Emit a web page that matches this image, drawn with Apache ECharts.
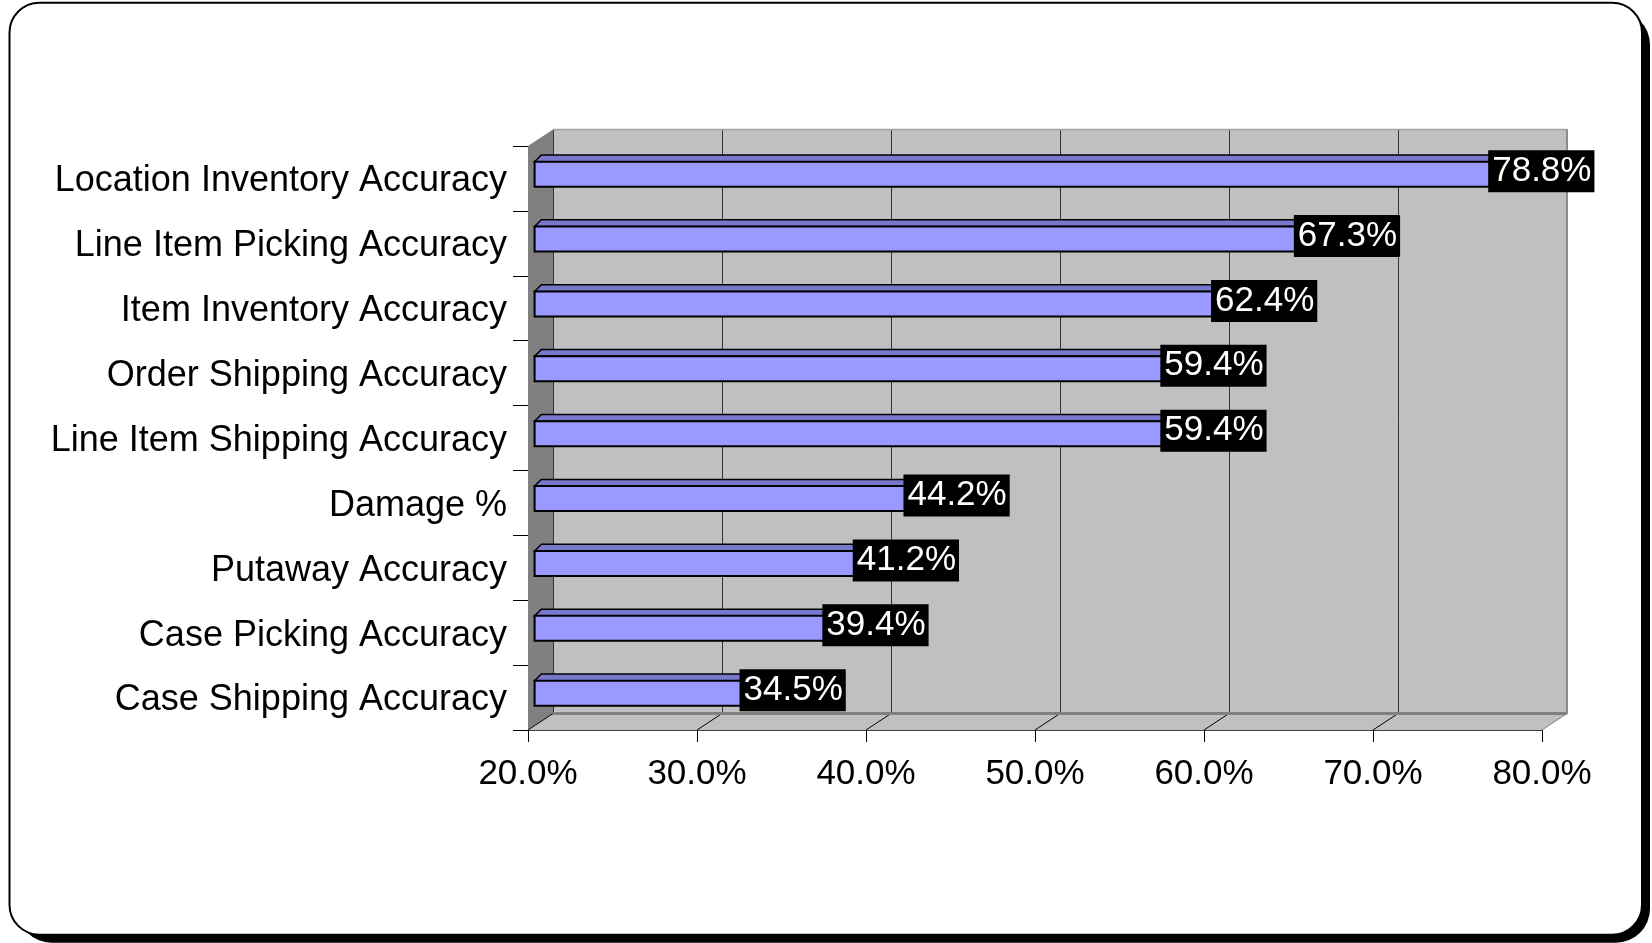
<!DOCTYPE html>
<html>
<head>
<meta charset="utf-8">
<script src="https://cdn.jsdelivr.net/npm/echarts@6/dist/echarts.min.js"></script>
<style>
  html, body { margin: 0; padding: 0; background: #fff; }
  #chart { width: 1652px; height: 943px; }
</style>
</head>
<body>
<div id="chart"></div>
<script>
// ---- data ----
const categories = [
  'Location Inventory Accuracy',
  'Line Item Picking Accuracy',
  'Item Inventory Accuracy',
  'Order Shipping Accuracy',
  'Line Item Shipping Accuracy',
  'Damage %',
  'Putaway Accuracy',
  'Case Picking Accuracy',
  'Case Shipping Accuracy'
];
const values = [78.8, 67.3, 62.4, 59.4, 59.4, 44.2, 41.2, 39.4, 34.5];
const xMin = 20;
const xMax = 80;
const xStep = 10;
const xTickValues = [20, 30, 40, 50, 60, 70, 80];

// ---- layout / style constants ----
const FONT = '"Liberation Sans", Arial, sans-serif';
const G = { left: 528, top: 146, width: 1014, height: 584 };
const DX = 25, DY = -16.5;             // depth offset of the back wall
const FRONT_DX = 6.6, FRONT_DY = -4.3; // bar front face offset
const BAR_H = 25, TOP_D = 6.7;

const chart = echarts.init(document.getElementById('chart'), null, { renderer: 'canvas' });

function renderWalls(params, api) {
  const cs = params.coordSys;
  const L = cs.x, T = cs.y, R = cs.x + cs.width, B = cs.y + cs.height;
  const children = [];
  children.push({ type: 'polygon', shape: { points: [[L, T], [L + DX, T + DY], [L + DX, B + DY], [L, B]] },
    style: { fill: '#808080', stroke: null } });
  children.push({ type: 'polygon', shape: { points: [[L, B], [L + DX, B + DY], [R + DX, B + DY], [R, B]] },
    style: { fill: '#c0c0c0', stroke: null } });
  xTickValues.forEach(function (v) {
    const x = api.coord([v, 0])[0];
    children.push({ type: 'line', shape: { x1: x, y1: B, x2: x + DX, y2: B + DY },
      style: { stroke: v === xMax ? '#808080' : '#000', lineWidth: 1 } });
  });
  children.push({ type: 'line', shape: { x1: L + DX, y1: B + DY, x2: R + DX, y2: B + DY },
    style: { stroke: '#808080', lineWidth: 3 } });
  children.push({ type: 'line', shape: { x1: L + DX, y1: T + DY, x2: R + DX, y2: T + DY },
    style: { stroke: '#a0a0a0', lineWidth: 1.5 } });
  children.push({ type: 'line', shape: { x1: R + DX, y1: T + DY, x2: R + DX, y2: B + DY },
    style: { stroke: '#8c8c8c', lineWidth: 2 } });
  return { type: 'group', children: children };
}

function renderBar(params, api) {
  const v = api.value(0);
  const idx = api.value(1);
  const p0 = api.coord([xMin, idx]);
  const p1 = api.coord([v, idx]);
  const cy = p0[1] + FRONT_DY;
  const x0 = p0[0] + FRONT_DX, x1 = p1[0] + FRONT_DX;
  const yt = cy - BAR_H / 2;
  return {
    type: 'group',
    children: [
      { type: 'polygon', shape: { points: [[x0, yt], [x1, yt], [x1 + TOP_D, yt - TOP_D], [x0 + TOP_D, yt - TOP_D]] },
        style: { fill: '#7777cc', stroke: '#000', lineWidth: 1.5 } },
      { type: 'rect', shape: { x: x0, y: yt, width: x1 - x0, height: BAR_H },
        style: { fill: '#9999ff', stroke: '#000', lineWidth: 2 } },
      { type: 'text', z2: 10,
        style: { text: v.toFixed(1) + '%', x: x1 + 13, y: cy - 3, align: 'center', verticalAlign: 'middle',
          fill: '#fff', fontSize: 35, fontFamily: FONT, lineHeight: 35,
          backgroundColor: '#000', padding: [3, 3, 4, 4] } }
    ]
  };
}

const option = {
  animation: false,
  backgroundColor: 'transparent',
  textStyle: { fontFamily: FONT },
  graphic: {
    elements: [
      { type: 'rect', z: -20, silent: true,
        shape: { x: 17.5, y: 10.7, width: 1632.5, height: 932, r: 34 },
        style: { fill: '#000' } },
      { type: 'rect', z: -19, silent: true,
        shape: { x: 9.5, y: 2.7, width: 1632.5, height: 932, r: 30 },
        style: { fill: '#fff', stroke: '#000', lineWidth: 2 } }
    ]
  },
  grid: [
    { left: G.left, top: G.top, width: G.width, height: G.height, containLabel: false },
    { left: G.left + DX, top: G.top + DY, width: G.width, height: G.height,
      show: true, backgroundColor: '#c0c0c0', borderWidth: 0, containLabel: false }
  ],
  xAxis: [
    { type: 'value', gridIndex: 0, min: xMin, max: xMax, interval: xStep,
      axisLine: { show: true, lineStyle: { color: '#404040', width: 1 } },
      axisTick: { show: true, length: 12, lineStyle: { color: '#000', width: 1 } },
      axisLabel: { margin: 27, fontSize: 35, color: '#000', fontFamily: FONT,
        formatter: function (v) { return v.toFixed(1) + '%'; } },
      splitLine: { show: false } },
    { type: 'value', gridIndex: 1, min: xMin, max: xMax, interval: xStep,
      axisLine: { show: false }, axisTick: { show: false }, axisLabel: { show: false },
      splitLine: { show: true, lineStyle: { color: '#333', width: 1 } } }
  ],
  yAxis: [
    { type: 'category', gridIndex: 0, data: categories, inverse: true,
      axisLine: { show: false },
      axisTick: { show: true, length: 15, lineStyle: { color: '#000', width: 1 } },
      axisLabel: { margin: 21, color: '#000', fontFamily: FONT,
        formatter: function (v) { return '{c|' + v + '}'; },
        rich: { c: { fontSize: 36, fontFamily: FONT, color: '#000', padding: [6, 0, 0, 0] } } } },
    { type: 'category', gridIndex: 1, data: categories, inverse: true, show: false }
  ],
  series: [
    { type: 'custom', name: 'walls', xAxisIndex: 0, yAxisIndex: 0, z: 1, silent: true,
      renderItem: renderWalls, data: [[xMin, 0]], encode: { x: 0, y: 1 } },
    { type: 'custom', name: 'bars', xAxisIndex: 0, yAxisIndex: 0, z: 3,
      renderItem: renderBar, data: values.map(function (v, i) { return [v, i]; }), encode: { x: 0, y: 1 } }
  ]
};
chart.setOption(option);
</script>
</body>
</html>
